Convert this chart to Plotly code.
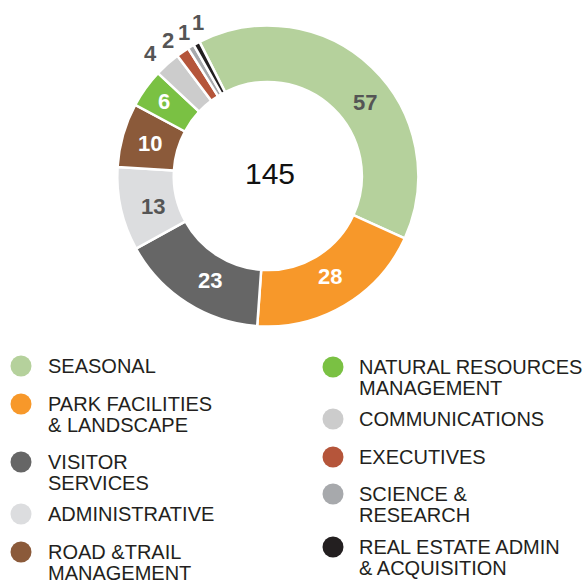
import math
import plotly.graph_objects as go

categories = ["SEASONAL", "PARK FACILITIES & LANDSCAPE", "VISITOR SERVICES", "ADMINISTRATIVE",
              "ROAD &TRAIL MANAGEMENT", "NATURAL RESOURCES MANAGEMENT", "COMMUNICATIONS",
              "EXECUTIVES", "SCIENCE & RESEARCH", "REAL ESTATE ADMIN & ACQUISITION"]
values = [57, 28, 23, 13, 10, 6, 4, 2, 1, 1]
colors = ["#b5d19c", "#f7982a", "#666666", "#dcdddf", "#8b5a3a",
          "#7ac143", "#cccccc", "#b5553a", "#a7a9ac", "#231f20"]
label_colors = ["#555555", "#ffffff", "#ffffff", "#555555", "#ffffff",
                "#ffffff", "#555555", "#555555", "#555555", "#555555"]

legend_lines = [["SEASONAL"], ["PARK FACILITIES", "& LANDSCAPE"], ["VISITOR", "SERVICES"],
                ["ADMINISTRATIVE"], ["ROAD &TRAIL", "MANAGEMENT"],
                ["NATURAL RESOURCES", "MANAGEMENT"], ["COMMUNICATIONS"], ["EXECUTIVES"],
                ["SCIENCE &", "RESEARCH"], ["REAL ESTATE ADMIN", "& ACQUISITION"]]

# ---- layout (pixel) settings ----
W, H = 585, 582
FONT = "Liberation Sans, Arial, sans-serif"
CX, CY, R_OUT = 267.8, 176, 150.5
ROTATION = -27
HOLE = 0.625
# value-label placement: angular nudge (deg) from slice middle and radius (px)
label_angle_shift = [9.2, -1.1, -3.8, -2.2, -0.3, 0.0, -1.9, -2.0, 0.5, 3.8]
label_radius = [121.4, 117.7, 119.3, 119.0, 121.9, 127.9, 169.2, 168.6, 166.6, 169.1]
leg_marker_x = [21, 21, 21, 21, 21, 333, 333, 333, 333, 333]
leg_text_x = [46, 46, 46, 46, 46, 357, 357, 357, 357, 357]
leg_y = [366, 404, 462, 514, 552, 367, 419, 457, 494, 547]
line_gap = 20.5

fig = go.Figure()

fig.add_trace(go.Pie(
    labels=categories, values=values, sort=False, direction="clockwise",
    rotation=ROTATION, hole=HOLE,
    marker=dict(colors=colors, line=dict(color="white", width=2.5)),
    textinfo="none",
    domain=dict(x=[(CX - R_OUT) / W, (CX + R_OUT) / W],
                y=[1 - (CY + R_OUT) / H, 1 - (CY - R_OUT) / H]),
    showlegend=False, hoverinfo="label+value",
))

# legend markers on a pixel-space overlay axis
fig.add_trace(go.Scatter(
    x=leg_marker_x, y=leg_y, mode="markers",
    marker=dict(size=21, color=colors, line=dict(width=0)),
    showlegend=False, hoverinfo="skip", xaxis="x", yaxis="y",
))

annotations = []
for tx, ty, lines in zip(leg_text_x, leg_y, legend_lines):
    for k, line in enumerate(lines):
        annotations.append(dict(
            x=tx, y=ty + k * line_gap, xref="x", yref="y", text=line, showarrow=False,
            xanchor="left", yanchor="middle",
            font=dict(family=FONT, size=20, color="#231f20"),
        ))

# value labels placed from each slice's angle
total = sum(values)
cum = 0
for i, v in enumerate(values):
    mid = ROTATION + (cum + v / 2) / total * 360
    cum += v
    a = math.radians(mid + label_angle_shift[i])
    r = label_radius[i]
    annotations.append(dict(
        x=CX + r * math.sin(a), y=CY - r * math.cos(a), xref="x", yref="y",
        text=str(v), showarrow=False, xanchor="center", yanchor="middle",
        font=dict(family=FONT, size=22, color=label_colors[i], weight="bold"),
    ))

annotations.append(dict(
    x=270, y=173, xref="x", yref="y", text=str(total), showarrow=False,
    xanchor="center", yanchor="middle", font=dict(family=FONT, size=30, color="#111111"),
))

fig.update_layout(
    width=W, height=H, margin=dict(l=0, r=0, t=0, b=0),
    paper_bgcolor="white", plot_bgcolor="rgba(0,0,0,0)",
    xaxis=dict(range=[0, W], visible=False, fixedrange=True, domain=[0, 1]),
    yaxis=dict(range=[H, 0], visible=False, fixedrange=True, domain=[0, 1]),
    annotations=annotations, showlegend=False,
)

fig.write_html("out.html")
